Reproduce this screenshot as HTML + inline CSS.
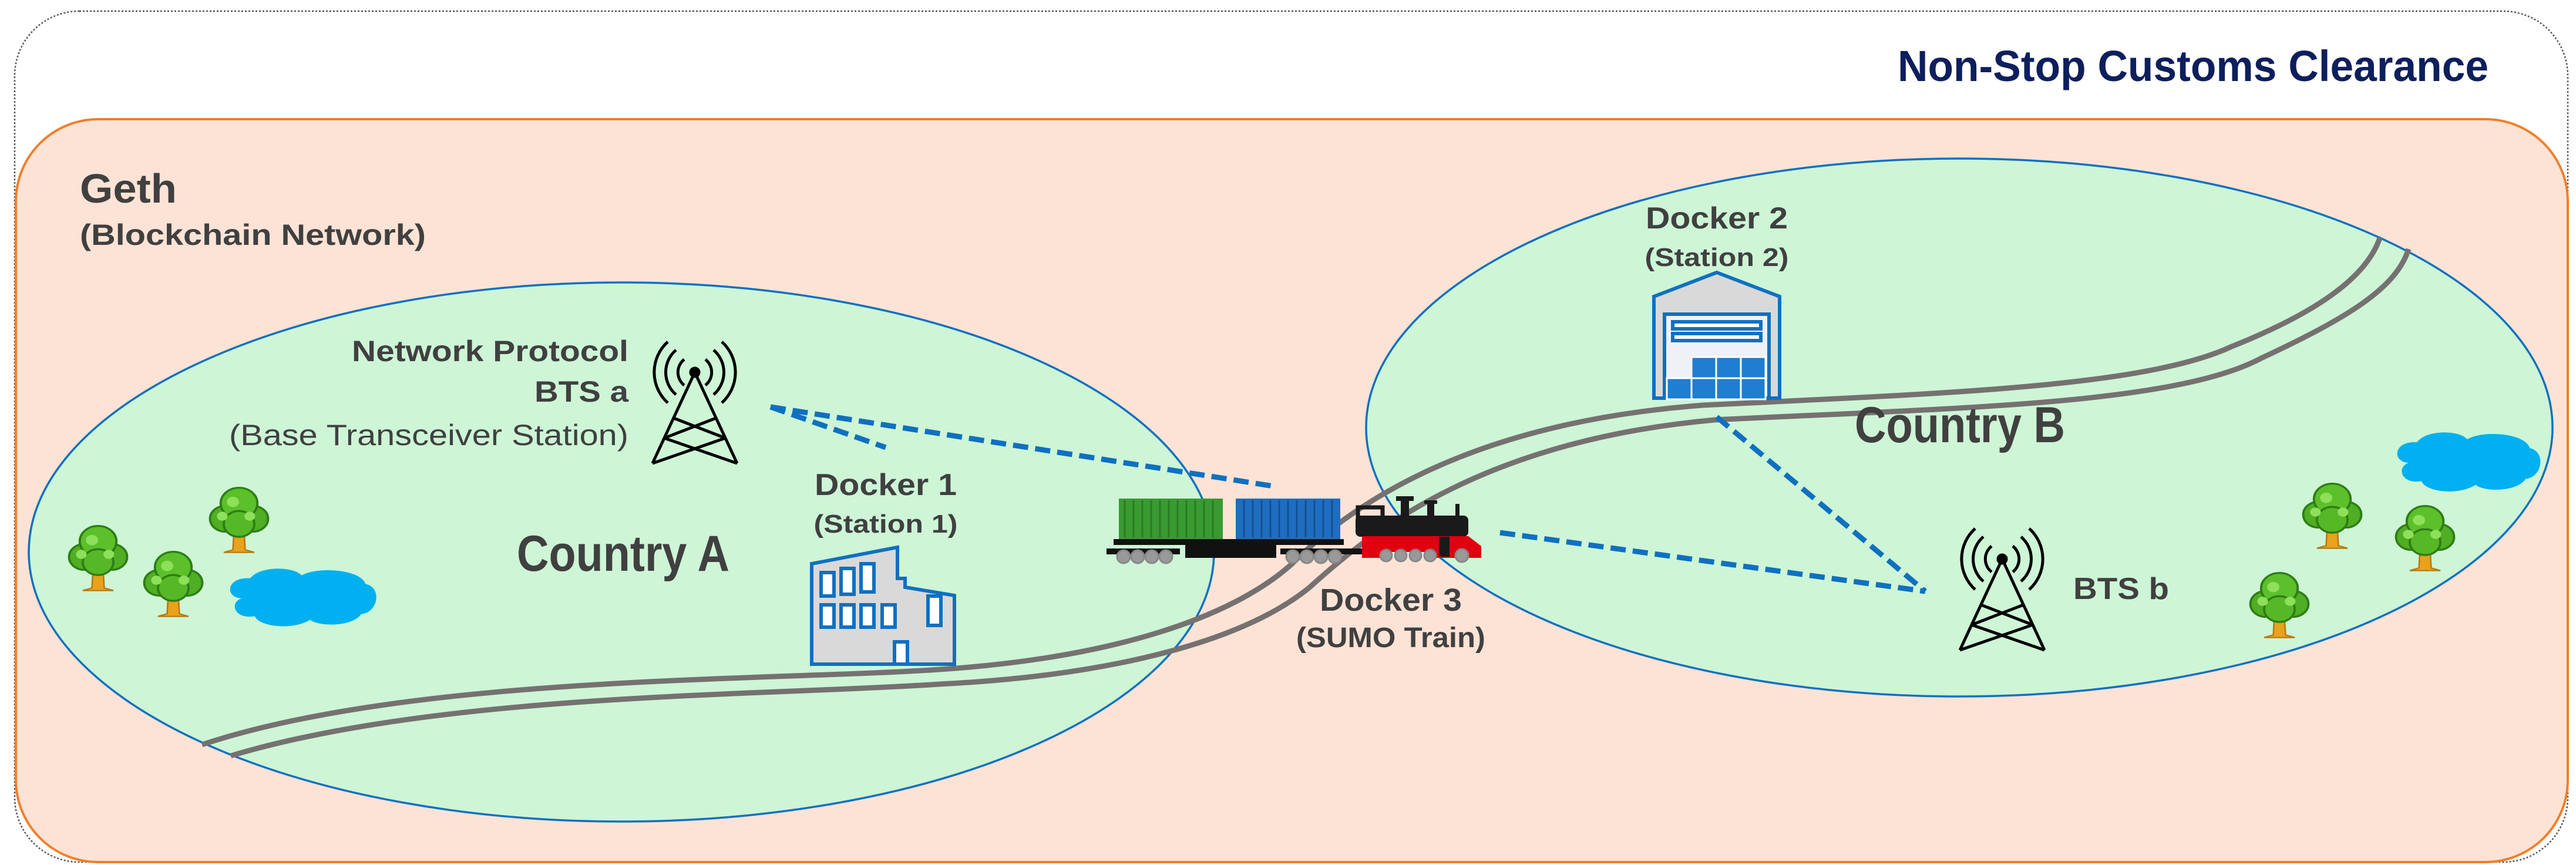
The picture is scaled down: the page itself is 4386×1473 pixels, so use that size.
<!DOCTYPE html>
<html><head><meta charset="utf-8"><style>
html,body{margin:0;padding:0;background:#fff;}
svg{display:block;}
text{font-family:"Liberation Sans Narrow","Liberation Sans",sans-serif;fill:#404040;font-weight:bold;}
</style></head><body>
<svg width="4386" height="1473" viewBox="0 0 4386 1473" xmlns="http://www.w3.org/2000/svg">
<defs>
<g id="tree">
 <path d="M-6,10 L-8,52 L-20,56 L20,56 L8,52 L6,10 Z" fill="#e8a21c" stroke="#b87a10" stroke-width="2"/>
 <path d="M0,30 L-14,14 M0,34 L14,16" stroke="#e8a21c" stroke-width="6"/>
 <circle cx="-18" cy="4" r="20" fill="#4fae23" stroke="#2f7d15" stroke-width="3"/>
 <circle cx="18" cy="4" r="20" fill="#4fae23" stroke="#2f7d15" stroke-width="3"/>
 <circle cx="0" cy="-20" r="24" fill="#5cc02a" stroke="#2f7d15" stroke-width="3"/>
 <circle cx="0" cy="12" r="20" fill="#56b826" stroke="#2f7d15" stroke-width="3"/>
 <circle cx="-8" cy="-22" r="8" fill="#8ee05a"/>
 <circle cx="-22" cy="0" r="7" fill="#8ee05a"/>
 <circle cx="14" cy="0" r="7" fill="#8ee05a"/>
</g>
<g id="cloud">
 <path d="M20,40 C0,40 0,10 30,12 C40,-5 80,-5 90,8 C110,-5 160,0 165,20 C185,25 180,60 160,62 C150,80 110,80 100,70 C80,85 40,80 35,65 C10,70 5,45 20,40 Z" fill="#00b0f0"/>
</g>
<g id="tower" fill="none" stroke="#000" stroke-width="5">
 <path d="M-72,155 L0,0 L72,155"/>
 <path d="M-52,112 L36,78 M52,112 L-36,78 M-72,155 L52,112 M72,155 L-52,112"/>
 <circle cx="0" cy="0" r="7" fill="#000"/>
 <path d="M-18,-22 A28,28 0 0 0 -18,22 M18,-22 A28,28 0 0 1 18,22"/>
 <path d="M-32,-38 A50,50 0 0 0 -32,38 M32,-38 A50,50 0 0 1 32,38"/>
 <path d="M-46,-52 A70,70 0 0 0 -46,52 M46,-52 A70,70 0 0 1 46,52"/>
</g>
</defs>

<rect x="25" y="19" width="4347" height="1449" rx="110" fill="#fff" stroke="#555" stroke-width="2.5" stroke-dasharray="3,3"/>
<text x="4237" y="138" text-anchor="end" font-size="74" style="fill:#0d1f5c" textLength="1006" lengthAdjust="spacingAndGlyphs">Non-Stop Customs Clearance</text>

<rect x="27" y="203" width="4345" height="1265" rx="140" fill="#fde3d5" stroke="#f07f2a" stroke-width="4"/>
<text x="136" y="345" font-size="70" textLength="165" lengthAdjust="spacingAndGlyphs">Geth</text>
<text x="136" y="417" font-size="50" textLength="589" lengthAdjust="spacingAndGlyphs">(Blockchain Network)</text>

<ellipse cx="1058" cy="940" rx="1009" ry="459" fill="#cdf5d6" stroke="#1070c0" stroke-width="3.5"/>
<ellipse cx="3336" cy="728" rx="1010" ry="458" fill="#cdf5d6" stroke="#1070c0" stroke-width="3.5"/>

<g fill="none" stroke="#767171" stroke-width="9">
<path d="M344,1268 C700,1150 1300,1160 1600,1140 C1900,1120 2100,1050 2200,960 C2300,860 2500,720 2900,690 C3300,670 3650,660 3800,590 C3950,530 4030,470 4052,405"/>
<path d="M393,1287 C750,1180 1300,1185 1600,1165 C1900,1150 2120,1090 2230,1000 C2340,900 2530,750 2920,715 C3320,695 3700,690 3850,610 C4000,540 4080,490 4101,424"/>
</g>

<g stroke="#1070c0" stroke-width="9" stroke-dasharray="26,12" fill="none">
<path d="M1312,693 L2175,829"/>
<path d="M1312,693 L1508,762"/>
<path d="M2554,907 L3278,1007"/>
<path d="M2923,710 L3278,1007"/>
</g>

<text x="1070" y="615" text-anchor="end" font-size="50" textLength="471" lengthAdjust="spacingAndGlyphs">Network Protocol</text>
<text x="1070" y="684" text-anchor="end" font-size="50" textLength="160" lengthAdjust="spacingAndGlyphs">BTS a</text>
<text x="1070" y="758" text-anchor="end" font-size="50" style="font-weight:normal" textLength="680" lengthAdjust="spacingAndGlyphs">(Base Transceiver Station)</text>
<use href="#tower" x="1183" y="634"/>
<text x="1508" y="843" text-anchor="middle" font-size="52" textLength="242" lengthAdjust="spacingAndGlyphs">Docker 1</text>
<text x="1508" y="907" text-anchor="middle" font-size="44" textLength="245" lengthAdjust="spacingAndGlyphs">(Station 1)</text>
<text x="1061" y="972" text-anchor="middle" font-size="86" textLength="362" lengthAdjust="spacingAndGlyphs">Country A</text>

<g stroke="#1070c0" stroke-width="6" fill="#d9d9d9">
<path d="M1382,1131 L1382,960 L1528,932 L1528,985 L1541,985 L1541,1000 L1625,1014 L1625,1131 Z"/>
<g fill="#fff">
<rect x="1398" y="975" width="22" height="40"/><rect x="1432" y="968" width="22" height="44"/><rect x="1466" y="960" width="22" height="48"/>
<rect x="1398" y="1030" width="22" height="38"/><rect x="1432" y="1030" width="22" height="38"/><rect x="1466" y="1030" width="22" height="38"/>
<rect x="1502" y="1030" width="22" height="38"/><rect x="1580" y="1015" width="22" height="50"/>
<rect x="1523" y="1093" width="22" height="38"/>
</g>
</g>

<use href="#tree" transform="translate(167,944) scale(1.3 1.1)"/>
<use href="#tree" transform="translate(407,879) scale(1.3 1.1)"/>
<use href="#tree" transform="translate(295,988) scale(1.3 1.1)"/>
<use href="#cloud" transform="translate(383,970) scale(1.45 1.22)"/>

<!-- train -->
<rect x="1905" y="849" width="177" height="69" fill="#3a9a32"/>
<g stroke="#2a7a22" stroke-width="3">
<path d="M1915,852V915M1930,852V915M1945,852V915M1960,852V915M1975,852V915M1990,852V915M2005,852V915M2020,852V915M2035,852V915M2050,852V915M2065,852V915"/>
</g>
<rect x="2104" y="849" width="178" height="69" fill="#1f6dc0"/>
<g stroke="#14508f" stroke-width="3">
<path d="M2118,852V915M2133,852V915M2148,852V915M2163,852V915M2178,852V915M2193,852V915M2208,852V915M2223,852V915M2238,852V915M2253,852V915M2268,852V915"/>
</g>
<rect x="1896" y="918" width="392" height="10" fill="#111"/>
<rect x="1884" y="934" width="125" height="10" fill="#111"/>
<rect x="2018" y="928" width="155" height="22" fill="#111"/>
<rect x="2180" y="934" width="140" height="10" fill="#111"/>
<rect x="2308" y="878" width="192" height="36" rx="8" fill="#1a1a1a"/>
<rect x="2312" y="864" width="42" height="24" fill="none" stroke="#1a1a1a" stroke-width="7"/>
<rect x="2385" y="848" width="14" height="35" fill="#1a1a1a"/>
<rect x="2377" y="845" width="30" height="8" fill="#1a1a1a"/>
<rect x="2430" y="855" width="12" height="28" fill="#1a1a1a"/>
<rect x="2425" y="852" width="22" height="6" fill="#1a1a1a"/>
<rect x="2478" y="858" width="7" height="24" fill="#1a1a1a"/>
<path d="M2319,913 L2500,913 L2522,930 L2522,950 L2319,950 Z" fill="#e00010"/>
<rect x="2450" y="914" width="18" height="34" fill="#1a1a1a"/>
<rect x="2350" y="940" width="95" height="10" fill="#eee"/>
<g fill="#999" stroke="#888" stroke-width="3">
<circle cx="1913" cy="948" r="11"/><circle cx="1937" cy="948" r="11"/><circle cx="1961" cy="948" r="11"/><circle cx="1985" cy="948" r="11"/>
<circle cx="2201" cy="948" r="11"/><circle cx="2225" cy="948" r="11"/><circle cx="2249" cy="948" r="11"/><circle cx="2273" cy="948" r="11"/>
<circle cx="2360" cy="946" r="10"/><circle cx="2385" cy="946" r="10"/><circle cx="2410" cy="946" r="10"/><circle cx="2435" cy="946" r="10"/>
<circle cx="2489" cy="946" r="11"/>
</g>
<text x="2368" y="1040" text-anchor="middle" font-size="54" textLength="242" lengthAdjust="spacingAndGlyphs">Docker 3</text>
<text x="2368" y="1102" text-anchor="middle" font-size="48" textLength="322" lengthAdjust="spacingAndGlyphs">(SUMO Train)</text>

<text x="2923" y="389" text-anchor="middle" font-size="52" textLength="242" lengthAdjust="spacingAndGlyphs">Docker 2</text>
<text x="2923" y="453" text-anchor="middle" font-size="44" textLength="245" lengthAdjust="spacingAndGlyphs">(Station 2)</text>
<g stroke="#1070c0" stroke-width="6">
<path d="M2816,678 L2816,505 L2923,464 L3030,505 L3030,678 Z" fill="#d9d9d9"/>
<rect x="2834" y="535" width="178" height="143" fill="#eef2f6"/>
<rect x="2848" y="548" width="150" height="12" fill="#fff"/>
<rect x="2848" y="568" width="150" height="12" fill="#fff"/>
<g fill="#1f7ed0" stroke="#fff" stroke-width="3">
<rect x="2880" y="608" width="42" height="36"/><rect x="2922" y="608" width="42" height="36"/>
<rect x="2880" y="644" width="42" height="36"/><rect x="2922" y="644" width="42" height="36"/>
<rect x="2838" y="644" width="42" height="36"/><rect x="2964" y="644" width="42" height="36"/><rect x="2964" y="608" width="42" height="36"/>
</g>
</g>
<text x="3337" y="753" text-anchor="middle" font-size="86" textLength="358" lengthAdjust="spacingAndGlyphs">Country B</text>
<use href="#tower" x="3409" y="952"/>
<text x="3530" y="1020" font-size="52" textLength="163" lengthAdjust="spacingAndGlyphs">BTS b</text>
<use href="#cloud" transform="translate(4073,738) scale(1.42 1.25)"/>
<use href="#tree" transform="translate(3971,872) scale(1.3 1.1)"/>
<use href="#tree" transform="translate(4129,910) scale(1.3 1.1)"/>
<use href="#tree" transform="translate(3881,1024) scale(1.3 1.1)"/>
</svg>
</body></html>
